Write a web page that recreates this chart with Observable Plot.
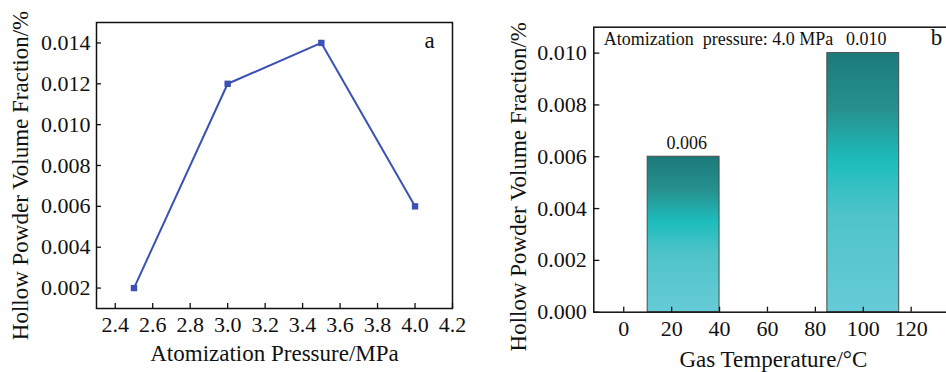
<!DOCTYPE html>
<html><head><meta charset="utf-8">
<script src="https://cdn.jsdelivr.net/npm/d3@7"></script>
<script src="https://cdn.jsdelivr.net/npm/@observablehq/plot@0.6"></script>
<style>
html,body{margin:0;padding:0;background:#fff;overflow:hidden}
#wrap{width:946px;height:372px;overflow:hidden;display:flex;flex-wrap:nowrap}
#wrap > *{flex:none;display:block}
#wrap text{font-family:'Liberation Serif','Times New Roman',serif}
</style></head><body>
<svg width="0" height="0" style="position:absolute">
<defs><linearGradient id="barGrad" x1="0" y1="0" x2="0" y2="1">
<stop offset="0" stop-color="#1b7a7a"/>
<stop offset="0.22" stop-color="#26918f"/>
<stop offset="0.42" stop-color="#1dbdbc"/>
<stop offset="0.62" stop-color="#4ec3c9"/>
<stop offset="1" stop-color="#66cbd7"/>
</linearGradient></defs></svg>
<div id="wrap"></div>
<script>
// Panel a
const pressures = [2.5, 3.0, 3.5, 4.0];
const pressureFractions = [0.002, 0.012, 0.014, 0.006];
const pressureTicks = [2.4, 2.6, 2.8, 3.0, 3.2, 3.4, 3.6, 3.8, 4.0, 4.2];
const fractionTicksA = [0.002, 0.004, 0.006, 0.008, 0.010, 0.012, 0.014];
// Panel b
const temperatures = [25, 100];
const temperatureFractions = [0.006, 0.010];
const temperatureTicks = [0, 20, 40, 60, 80, 100, 120];
const fractionTicksB = [0, 0.002, 0.004, 0.006, 0.008, 0.010];
const valueLabels = ["0.006", "0.010"];

const yTitle = "Hollow Powder Volume Fraction/%";
const xTitleA = "Atomization Pressure/MPa";
const xTitleB = "Gas Temperature/°C";
const noteB = "Atomization\u00a0 pressure: 4.0 MPa";

const font = "'Liberation Serif','Times New Roman',serif";
const ink = "#111";
const blue = "#3b52b4";
const barHalf = 15;

const tableA = pressures.map((p, i) => ({p, v: pressureFractions[i]}));
const tableB = temperatures.map((t, i) => ({t, v: temperatureFractions[i], label: valueLabels[i]}));

const axisStyle = {fontSize: 22, fontFamily: font, fontVariant: "normal", strokeWidth: 1.3, label: null};

const left = Plot.plot({
  width: 476, height: 372,
  marginLeft: 96, marginRight: 24, marginTop: 22, marginBottom: 64,
  style: {fontFamily: font, fontSize: "22px", color: ink, background: "transparent", overflow: "visible"},
  x: {domain: [2.3, 4.2]},
  y: {domain: [0.001, 0.015]},
  marks: [
    Plot.axisX({...axisStyle, ticks: pressureTicks, tickFormat: d3.format(".1f"), tickSize: -5, tickPadding: 13}),
    Plot.axisY({...axisStyle, ticks: fractionTicksA, tickFormat: d3.format(".3f"), tickSize: -5, tickPadding: 11}),
    Plot.frame({stroke: ink, strokeWidth: 1.5}),
    Plot.line(tableA, {x: "p", y: "v", stroke: blue, strokeWidth: 2}),
    Plot.dot(tableA, {x: "p", y: "v", symbol: "square", r: 3.6, fill: blue, stroke: "none"}),
    Plot.text([xTitleA], {frameAnchor: "bottom", dy: 52, lineAnchor: "bottom", textAnchor: "middle", fontSize: 23}),
    Plot.text([yTitle], {frameAnchor: "left", rotate: -90, dx: -76, dy: 10, lineAnchor: "middle", textAnchor: "middle", fontSize: 23}),
    Plot.text(["a"], {frameAnchor: "top-right", dx: -23, dy: 25, lineAnchor: "bottom", textAnchor: "middle", fontSize: 23})
  ]
});

const right = Plot.plot({
  width: 484, height: 372,
  marginLeft: 117.3, marginRight: 7.4, marginTop: 26.7, marginBottom: 60.3,
  style: {fontFamily: font, fontSize: "22px", color: ink, background: "transparent", overflow: "visible"},
  x: {domain: [-12.5, 137.5]},
  y: {domain: [0, 0.011]},
  marks: [
    Plot.rectY(tableB, {x1: d => d.t - barHalf, x2: d => d.t + barHalf, y: "v", fill: "url(#barGrad)", stroke: "#4a4a4a", strokeWidth: 1}),
    Plot.axisX({...axisStyle, ticks: temperatureTicks, tickFormat: d => String(d), tickSize: -5, tickPadding: 13}),
    Plot.axisY({...axisStyle, ticks: fractionTicksB, tickFormat: d3.format(".3f"), tickSize: -6, tickPadding: 13}),
    Plot.frame({stroke: ink, strokeWidth: 1.5}),
    Plot.text(tableB, {x: "t", y: "v", text: "label", dx: 3, dy: -8, lineAnchor: "bottom", textAnchor: "middle", fontSize: 18}),
    Plot.text([noteB], {frameAnchor: "top-left", dx: 10, dy: 18, lineAnchor: "bottom", textAnchor: "start", fontSize: 18}),
    Plot.text(["b"], {frameAnchor: "top-left", dx: 342.7, dy: 18, lineAnchor: "bottom", textAnchor: "middle", fontSize: 23}),
    Plot.text([xTitleB], {frameAnchor: "bottom", dy: 55, lineAnchor: "bottom", textAnchor: "middle", fontSize: 23}),
    Plot.text([yTitle], {frameAnchor: "left", rotate: -90, dx: -75.3, dy: 17, lineAnchor: "middle", textAnchor: "middle", fontSize: 23})
  ]
});

const wrap = document.getElementById("wrap");
wrap.appendChild(left);
wrap.appendChild(right);
</script>
</body></html>
